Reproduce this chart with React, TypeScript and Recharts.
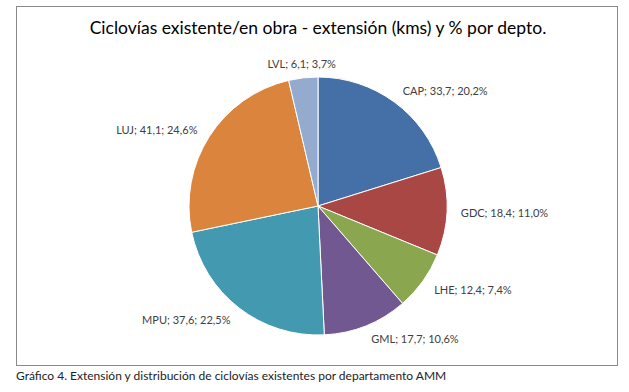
import React from "react";
import { PieChart, Pie, Cell } from "recharts";

const categories = ["CAP", "GDC", "LHE", "GML", "MPU", "LUJ", "LVL"];
const kms = [33.7, 18.4, 12.4, 17.7, 37.6, 41.1, 6.1];
const colors = ["#4470A7", "#A94744", "#8AA64F", "#725891", "#4299B0", "#DB843D", "#94AACF"];
const title = "Ciclovías existente/en obra - extensión (kms) y % por depto.";
const caption = "Gráfico 4. Extensión y distribución de ciclovías existentes por departamento AMM";

const data = categories.map((name, i) => ({ name, value: kms[i] }));

const fmt = (n: number, d: number) => n.toFixed(d).replace(".", ",");

const renderLabel = (props: any) => {
  const { cx, cy, midAngle, outerRadius, percent, name, value } = props;
  const RAD = Math.PI / 180;
  const r = outerRadius + 14;
  const c = Math.cos(-midAngle * RAD);
  const s = Math.sin(-midAngle * RAD);
  const x = cx + r * c;
  const y = cy + r * s;
  const anchor = Math.abs(c) < 0.3 ? "middle" : c > 0 ? "start" : "end";
  return (
    <text
      x={x}
      y={y}
      textAnchor={anchor}
      dominantBaseline="central"
      fill="#404040"
      fontSize={11}
      fontFamily="Lato, 'Open Sans', sans-serif"
    >
      {`${name}; ${fmt(value, 1)}; ${fmt(percent * 100, 1)}%`}
    </text>
  );
};

export default function App() {
  return (
    <div style={{ position: "absolute", left: 0, top: 0, width: 629, height: 392, background: "#fff" }}>
      <div
        style={{
          position: "absolute",
          left: 16,
          top: 6,
          width: 602,
          height: 360,
          border: "1.5px solid #8a8a8a",
          boxSizing: "border-box",
        }}
      />
      <div
        style={{
          position: "absolute",
          left: 16,
          top: 17,
          width: 604,
          textAlign: "center",
          fontFamily: "Lato, 'Open Sans', sans-serif",
          fontSize: 17.5,
          color: "#000",
          whiteSpace: "nowrap",
        }}
      >
        {title}
      </div>
      <div style={{ position: "absolute", left: 0, top: 0 }}>
        <PieChart width={629} height={392} margin={{ top: 0, right: 0, bottom: 0, left: 0 }}>
          <Pie
            data={data}
            dataKey="value"
            nameKey="name"
            cx={318}
            cy={206}
            outerRadius={129}
            startAngle={90}
            endAngle={-270}
            stroke="#ffffff"
            strokeWidth={1}
            label={renderLabel}
            labelLine={false}
            isAnimationActive={false}
          >
            {data.map((d, i) => (
              <Cell key={d.name} fill={colors[i]} />
            ))}
          </Pie>
        </PieChart>
      </div>
      <div
        style={{
          position: "absolute",
          left: 16,
          top: 368,
          fontFamily: "Lato, 'Open Sans', sans-serif",
          fontSize: 12,
          color: "#222",
          whiteSpace: "nowrap",
        }}
      >
        {caption}
      </div>
    </div>
  );
}
